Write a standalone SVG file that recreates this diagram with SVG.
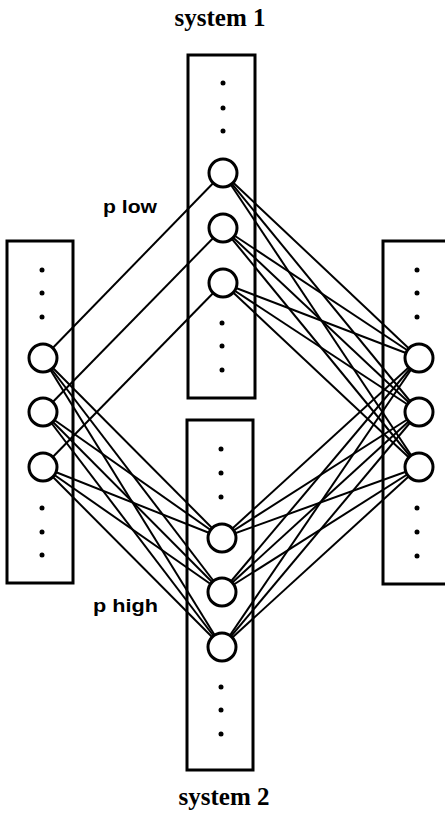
<svg xmlns="http://www.w3.org/2000/svg" width="445" height="814" viewBox="0 0 445 814">
  <style>
    .box { fill: none; stroke: #000; stroke-width: 3; }
    .unit { fill: #fff; stroke: #000; stroke-width: 3; }
    .dot { fill: #000; }
    .link { stroke: #000; stroke-width: 2; fill: none; }
    .title { font-family: "Liberation Serif", "Times New Roman", serif; font-weight: bold; font-size: 25px; text-anchor: middle; }
    .label { font-family: "Liberation Sans", Arial, sans-serif; font-weight: bold; font-size: 19px; }
  </style>
  <rect width="445" height="814" fill="#fff"/>

  <!-- connections between units -->
  <g id="connectors">
    <!-- left to system 1: one-to-one -->
    <line class="link" x1="43" y1="358" x2="223" y2="173"/>
    <line class="link" x1="43" y1="412" x2="223" y2="228"/>
    <line class="link" x1="43" y1="467" x2="223" y2="283"/>
    <!-- system 1 to right: all-to-all -->
    <line class="link" x1="223" y1="173" x2="419" y2="358"/>
    <line class="link" x1="223" y1="173" x2="419" y2="412"/>
    <line class="link" x1="223" y1="173" x2="419" y2="467"/>
    <line class="link" x1="223" y1="228" x2="419" y2="358"/>
    <line class="link" x1="223" y1="228" x2="419" y2="412"/>
    <line class="link" x1="223" y1="228" x2="419" y2="467"/>
    <line class="link" x1="223" y1="283" x2="419" y2="358"/>
    <line class="link" x1="223" y1="283" x2="419" y2="412"/>
    <line class="link" x1="223" y1="283" x2="419" y2="467"/>
    <!-- left to system 2: all-to-all -->
    <line class="link" x1="43" y1="358" x2="222" y2="538"/>
    <line class="link" x1="43" y1="358" x2="222" y2="592"/>
    <line class="link" x1="43" y1="358" x2="222" y2="647"/>
    <line class="link" x1="43" y1="412" x2="222" y2="538"/>
    <line class="link" x1="43" y1="412" x2="222" y2="592"/>
    <line class="link" x1="43" y1="412" x2="222" y2="647"/>
    <line class="link" x1="43" y1="467" x2="222" y2="538"/>
    <line class="link" x1="43" y1="467" x2="222" y2="592"/>
    <line class="link" x1="43" y1="467" x2="222" y2="647"/>
    <!-- system 2 to right: all-to-all -->
    <line class="link" x1="222" y1="538" x2="419" y2="358"/>
    <line class="link" x1="222" y1="538" x2="419" y2="412"/>
    <line class="link" x1="222" y1="538" x2="419" y2="467"/>
    <line class="link" x1="222" y1="592" x2="419" y2="358"/>
    <line class="link" x1="222" y1="592" x2="419" y2="412"/>
    <line class="link" x1="222" y1="592" x2="419" y2="467"/>
    <line class="link" x1="222" y1="647" x2="419" y2="358"/>
    <line class="link" x1="222" y1="647" x2="419" y2="412"/>
    <line class="link" x1="222" y1="647" x2="419" y2="467"/>
  </g>

  <!-- input layer -->
  <g id="input-layer">
    <rect class="box" x="7" y="241" width="66" height="342"/>
    <circle class="dot" cx="42" cy="270" r="2.5"/>
    <circle class="dot" cx="42" cy="293" r="2.5"/>
    <circle class="dot" cx="42" cy="317" r="2.5"/>
    <circle id="in-1" class="unit" cx="43" cy="358" r="14"/>
    <circle id="in-2" class="unit" cx="43" cy="412" r="14"/>
    <circle id="in-3" class="unit" cx="43" cy="467" r="14"/>
    <circle class="dot" cx="42" cy="508" r="2.5"/>
    <circle class="dot" cx="42" cy="532" r="2.5"/>
    <circle class="dot" cx="42" cy="555" r="2.5"/>
  </g>

  <!-- system 1 hidden layer -->
  <g id="system-1">
    <rect class="box" x="188" y="55" width="67" height="343"/>
    <circle class="dot" cx="223" cy="83" r="2.5"/>
    <circle class="dot" cx="223" cy="108" r="2.5"/>
    <circle class="dot" cx="223" cy="131" r="2.5"/>
    <circle id="s1-1" class="unit" cx="223" cy="173" r="14"/>
    <circle id="s1-2" class="unit" cx="223" cy="228" r="14"/>
    <circle id="s1-3" class="unit" cx="223" cy="283" r="14"/>
    <circle class="dot" cx="222" cy="323" r="2.5"/>
    <circle class="dot" cx="222" cy="346" r="2.5"/>
    <circle class="dot" cx="222" cy="370" r="2.5"/>
  </g>

  <!-- system 2 hidden layer -->
  <g id="system-2">
    <rect class="box" x="187" y="420" width="66" height="350"/>
    <circle class="dot" cx="221" cy="449" r="2.5"/>
    <circle class="dot" cx="221" cy="473" r="2.5"/>
    <circle class="dot" cx="221" cy="497" r="2.5"/>
    <circle id="s2-1" class="unit" cx="222" cy="538" r="14"/>
    <circle id="s2-2" class="unit" cx="222" cy="592" r="14"/>
    <circle id="s2-3" class="unit" cx="222" cy="647" r="14"/>
    <circle class="dot" cx="221" cy="687" r="2.5"/>
    <circle class="dot" cx="221" cy="710" r="2.5"/>
    <circle class="dot" cx="221" cy="734" r="2.5"/>
  </g>

  <!-- output layer -->
  <g id="output-layer">
    <rect class="box" x="383" y="241" width="80" height="343"/>
    <circle class="dot" cx="417" cy="270" r="2.5"/>
    <circle class="dot" cx="417" cy="293" r="2.5"/>
    <circle class="dot" cx="417" cy="317" r="2.5"/>
    <circle id="out-1" class="unit" cx="419" cy="358" r="14"/>
    <circle id="out-2" class="unit" cx="419" cy="412" r="14"/>
    <circle id="out-3" class="unit" cx="419" cy="467" r="14"/>
    <circle class="dot" cx="417" cy="508" r="2.5"/>
    <circle class="dot" cx="417" cy="532" r="2.5"/>
    <circle class="dot" cx="417" cy="556" r="2.5"/>
  </g>

  <!-- labels -->
  <g id="labels">
    <text class="title" x="220" y="26">system 1</text>
    <text class="title" x="224" y="805">system 2</text>
    <text class="label" x="103" y="213" textLength="54" lengthAdjust="spacingAndGlyphs">p low</text>
    <text class="label" x="93" y="612" textLength="65" lengthAdjust="spacingAndGlyphs">p high</text>
  </g>
</svg>
